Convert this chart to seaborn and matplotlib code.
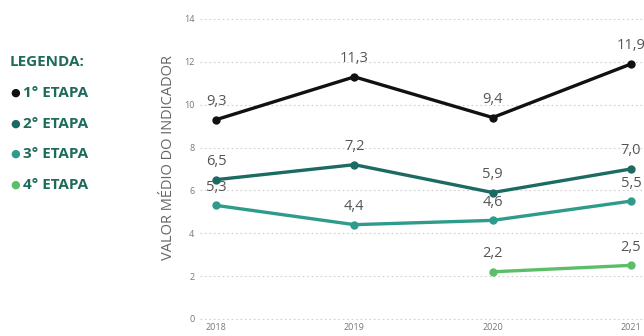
import matplotlib
matplotlib.use("Agg")
import matplotlib.pyplot as plt
import seaborn as sns
import pandas as pd

# Indicator averages per stage and year
years = [2018, 2019, 2020, 2021]
etapa1 = [9.3, 11.3, 9.4, 11.9]
etapa2 = [6.5, 7.2, 5.9, 7.0]
etapa3 = [5.3, 4.4, 4.6, 5.5]
etapa4_years = [2020, 2021]
etapa4 = [2.2, 2.5]

stages = ["1° ETAPA", "2° ETAPA", "3° ETAPA", "4° ETAPA"]
colors = ["#111111", "#1b6b63", "#2f9b8a", "#5bbf6a"]

rows = []
for name, xs, ys in [(stages[0], years, etapa1), (stages[1], years, etapa2),
                     (stages[2], years, etapa3), (stages[3], etapa4_years, etapa4)]:
    for x, y in zip(xs, ys):
        rows.append({"ano": x, "valor": y, "etapa": name})
df = pd.DataFrame(rows)

sns.set_style("white")
plt.rcParams["font.family"] = ["Open Sans", "DejaVu Sans"]

fig = plt.figure(figsize=(6.44, 3.36), dpi=100)
ax = fig.add_axes([200 / 644, 16 / 336, 444 / 644, 310 / 336])

palette = dict(zip(stages, colors))
sns.lineplot(data=df, x="ano", y="valor", hue="etapa", palette=palette,
             marker="o", markersize=6, linewidth=2.4, markeredgewidth=0,
             legend=False, ax=ax)

for _, r in df.iterrows():
    ax.annotate(f"{r['valor']:.1f}".replace(".", ","), (r["ano"], r["valor"]),
                xytext=(0, 13), textcoords="offset points", ha="center",
                va="center", fontsize=10.5, color="#555555")

ax.set_xlim(2017.884, 2021.094)
ax.set_ylim(-0.05, 14.42)
ax.set_yticks(range(0, 15, 2))
ax.set_xticks(years)
ax.tick_params(axis="both", labelsize=6.5, colors="#777777", length=0)
ax.tick_params(axis="y", pad=4)
ax.tick_params(axis="x", pad=2)
ax.yaxis.grid(True, linestyle=(0, (1.5, 2.5)), color="#cfcfcf", linewidth=0.8)
ax.xaxis.grid(False)
for s in ax.spines.values():
    s.set_visible(False)
ax.set_xlabel("")
ax.set_ylabel("")

fig.text(168 / 644, 1 - 158 / 336, "VALOR MÉDIO DO INDICADOR", rotation=90,
         ha="center", va="center", fontsize=10.5, color="#666666")

# Legend block on the left
legend_color = "#1d6b5b"
fig.text(10 / 644, 1 - 62 / 336, "LEGENDA:", ha="left", va="center",
         fontsize=11, fontweight="bold", color=legend_color)
for i, (name, c) in enumerate(zip(stages, colors)):
    y = 1 - (93 + i * 30.7) / 336
    fig.text(10 / 644, y, "●", ha="left", va="center", fontsize=8, color=c)
    fig.text(23 / 644, y, name, ha="left", va="center", fontsize=11,
             fontweight="bold", color=legend_color)

fig.savefig("out.png", dpi=100)
